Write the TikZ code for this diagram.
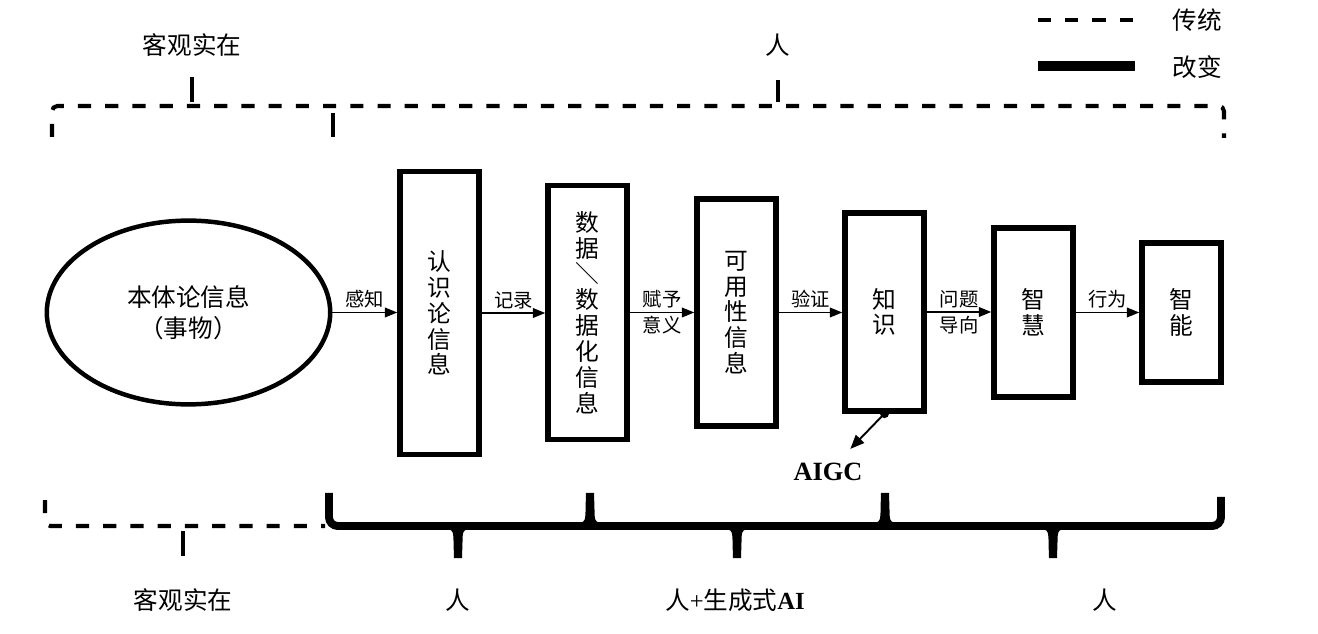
\documentclass[tikz,border=0pt]{standalone}
\usepackage{fontspec}
\setmainfont{Noto Sans CJK SC}
\newfontfamily\tnr{Liberation Serif}
\usetikzlibrary{arrows.meta,shapes.geometric}
\begin{document}
\begin{tikzpicture}[x=0.02cm,y=-0.02cm,
  box/.style={draw, line width=3.3pt, minimum width=44.8pt, inner sep=0pt, align=center,
    font=\fontsize{13.5}{14.7}\selectfont},
  arr/.style={line width=0.85pt, -{Triangle[length=7pt,width=5.5pt]}},
  lblup/.style={midway, yshift=7.4pt, inner sep=0pt, font=\fontsize{11}{13}\selectfont},
  lbldn/.style={midway, yshift=-7.4pt, inner sep=0pt, font=\fontsize{11}{13}\selectfont},
  dashln/.style={line width=2.3pt, dash pattern=on 7.5pt off 8pt, rounded corners=3pt},
  tipln/.style={line width=2.7pt},
  lbl/.style={inner sep=0pt, font=\fontsize{14}{16}\selectfont}
]
\useasboundingbox (0,0) rectangle (1318,634);

% legend
\draw[dashln] (1038,20) -- (1135,20);
\draw[line width=5.5pt] (1038,66) -- (1135,66);
\node[lbl] (lg1) at (1197,20) {传统};
\node[lbl] (lg2) at (1197,67) {改变};

% top labels and dashed brace
\node[lbl] (top1) at (192,45) {客观实在};
\node[lbl] (top2) at (778,45) {人};
\draw[dashln] (52,137) -- (52,106) -- (1224,106) -- (1224,138);
\draw[tipln] (192,102) -- (192,77);
\draw[tipln] (778,102) -- (778,80);
\draw[tipln] (333,113) -- (333,137);

% main chain
\node[ellipse, draw, line width=2.55pt, minimum width=161.3pt, minimum height=104.6pt,
  inner sep=0pt, align=center, font=\fontsize{14}{17.6}\selectfont]
  (ell) at (188.5,312.5) {本体论信息\\（事物）};
\node[box, minimum height=161pt] (b1) at (439.5,313) {认\\识\\论\\信\\息};
\node[box, minimum height=144.5pt] (b2) at (587.5,312.5) {数\\据\\＼\\数\\据\\化\\信\\息};
\node[box, minimum height=128.8pt] (b3) at (736.5,312.5) {可\\用\\性\\信\\息};
\node[box, minimum height=112.3pt] (b4) at (884.5,312) {知\\识};
\node[box, minimum height=95.9pt] (b5) at (1033.5,312.5) {智\\慧};
\node[box, minimum height=78.9pt] (b6) at (1181.5,312.5) {智\\能};

\draw[arr] (ell.east) -- (ell.east -| b1.west) node[lblup] {感知};
\draw[arr] (b1.east) -- (b1.east -| b2.west) node[lblup] {记录};
\draw[arr] (b2.east) -- (b2.east -| b3.west) node[lblup] {赋予} node[lbldn] {意义};
\draw[arr] (b3.east) -- (b3.east -| b4.west) node[lblup] {验证};
\draw[arr] (b4.east) -- (b4.east -| b5.west) node[lblup] {问题} node[lbldn] {导向};
\draw[arr] (b5.east) -- (b5.east -| b6.west) node[lblup] {行为};

% AIGC
\node[inner sep=0pt, font=\tnr\bfseries\fontsize{15}{17}\selectfont] (aigc) at (828,472) {AIGC};
\fill (b4.south) circle[radius=2.6pt];
\draw[line width=1.1pt, -{Triangle[length=8pt,width=6.5pt]}, shorten >=11pt] (b4.south) -- (aigc);

% bottom dashed brace
\draw[dashln] (45,500) -- (45,526) -- (325,526);
\draw[tipln] (183,531) -- (183,556);

% bottom solid braces
\draw[line width=4.5pt, rounded corners=5pt] (329,493) -- (329,526) -- (1221,526) -- (1221,497);
\foreach \xx in {590,885} {
  \fill (\xx-10,522.5) .. controls (\xx-4.5,522.5) and (\xx-4.5,518) .. (\xx-4.5,510)
    -- (\xx-4,493) -- (\xx+4,493) -- (\xx+4.5,510)
    .. controls (\xx+4.5,518) and (\xx+4.5,522.5) .. (\xx+10,522.5) -- cycle;
}
\foreach \xx in {458,737,1053} {
  \fill (\xx-10,529.5) .. controls (\xx-4.5,529.5) and (\xx-4.5,534) .. (\xx-4.5,542)
    -- (\xx-4,558) -- (\xx+4,558) -- (\xx+4.5,542)
    .. controls (\xx+4.5,534) and (\xx+4.5,529.5) .. (\xx+10,529.5) -- cycle;
}

% bottom labels
\node[lbl] (bot1) at (183,600) {客观实在};
\node[lbl] (bot2) at (458,600) {人};
\node[lbl] (bot3) at (735,600) {人{\tnr+}生成式{\tnr\bfseries AI}};
\node[lbl] (bot4) at (1105,600) {人};
\end{tikzpicture}
\end{document}
